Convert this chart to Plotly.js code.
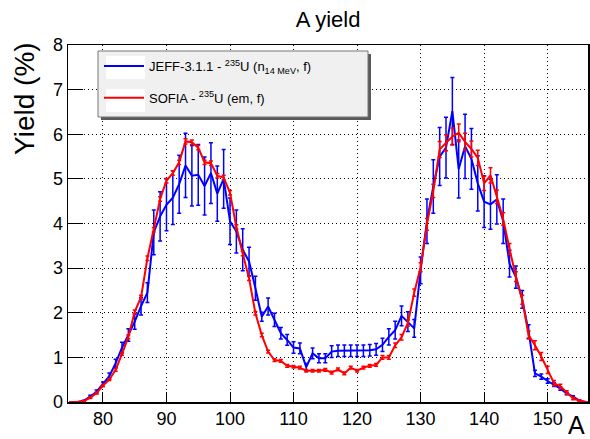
<!DOCTYPE html>
<html>
<head>
<meta charset="utf-8">
<script src="https://cdn.plot.ly/plotly-3.0.1.min.js"></script>
<style>html,body{margin:0;padding:0;background:#fff;}#chart{width:590px;height:439px;}</style>
</head>
<body>
<div id="chart"></div>
<script>
// Mass number A
const massA = [75,76,77,78,79,80,81,82,83,84,85,86,87,88,89,90,91,92,93,94,95,96,97,98,99,100,
  101,102,103,104,105,106,107,108,109,110,111,112,113,114,115,116,117,118,119,120,
  121,122,123,124,125,126,127,128,129,130,131,132,133,134,135,136,137,138,139,140,
  141,142,143,144,145,146,147,148,149,150,151,152,153,154,155,156];

// JEFF-3.1.1 - 235U (n 14 MeV, f) yield (%)
const jeffYield = [0.00,0.00,0.03,0.12,0.23,0.40,0.58,0.87,1.22,1.50,1.80,2.15,2.45,3.80,4.16,4.42,4.58,4.88,5.30,5.07,5.09,4.84,5.13,4.67,5.00,4.05,
  3.82,3.41,3.15,2.55,1.91,2.14,1.84,1.54,1.39,1.22,1.20,0.78,1.09,0.98,0.98,1.13,1.15,1.15,1.15,1.15,
  1.15,1.16,1.18,1.28,1.46,1.61,1.93,1.80,1.65,2.95,4.05,4.83,5.50,5.70,6.52,5.22,5.73,5.45,4.90,4.49,
  4.43,4.54,4.05,3.10,2.80,2.30,1.58,0.64,0.57,0.47,0.39,0.30,0.19,0.12,0.03,0.00];
const jeffErr = [0.00,0.00,0.01,0.03,0.04,0.05,0.07,0.09,0.12,0.14,0.17,0.20,0.22,0.50,0.55,0.58,0.60,0.65,0.72,0.68,0.68,0.65,0.68,0.62,0.66,0.52,
  0.48,0.47,0.32,0.27,0.10,0.19,0.15,0.13,0.12,0.13,0.12,0.08,0.12,0.10,0.10,0.13,0.13,0.13,0.13,0.13,
  0.13,0.13,0.13,0.15,0.18,0.20,0.22,0.22,0.20,0.30,0.50,0.60,0.65,0.68,0.75,0.65,0.72,0.68,0.62,0.58,
  0.56,0.55,0.50,0.30,0.25,0.20,0.15,0.07,0.06,0.05,0.04,0.035,0.025,0.02,0.01,0.00];

// SOFIA - 235U (em, f) yield (%)
const sofiaYield = [0.00,0.00,0.02,0.10,0.20,0.37,0.50,0.72,1.08,1.46,2.02,2.35,3.22,3.86,4.55,4.96,5.13,5.37,5.84,5.82,5.70,5.37,5.35,5.07,5.03,4.69,
  3.92,3.33,2.77,1.99,1.50,1.13,0.94,0.92,0.81,0.79,0.77,0.70,0.70,0.70,0.72,0.66,0.73,0.64,0.77,0.70,
  0.77,0.81,0.83,1.00,1.00,1.27,1.45,1.77,2.45,3.02,3.98,4.73,5.66,5.81,5.95,6.03,5.83,5.67,5.47,4.90,
  5.08,4.60,4.10,3.43,2.81,2.29,1.50,1.27,1.02,0.72,0.42,0.35,0.21,0.08,0.03,0.00];
const sofiaErr = [0.00,0.00,0.01,0.02,0.02,0.02,0.02,0.03,0.03,0.04,0.04,0.04,0.05,0.05,0.05,0.05,0.05,0.05,0.06,0.05,0.05,0.05,0.05,0.05,0.05,0.05,
  0.05,0.05,0.05,0.04,0.04,0.03,0.03,0.03,0.03,0.03,0.03,0.03,0.03,0.03,0.03,0.03,0.03,0.03,0.03,0.03,
  0.03,0.03,0.03,0.04,0.04,0.05,0.06,0.07,0.08,0.10,0.13,0.15,0.18,0.18,0.19,0.20,0.19,0.18,0.17,0.16,
  0.17,0.15,0.14,0.12,0.11,0.10,0.09,0.10,0.09,0.08,0.06,0.05,0.04,0.03,0.02,0.00];

const font = "Liberation Sans, Arial, Helvetica, sans-serif";

const traces = [
  {
    x: massA, y: jeffYield, type: 'scatter', mode: 'lines',
    name: 'JEFF-3.1.1 - <sup>235</sup>U (n<sub>14 MeV</sub>, f)',
    legendgroup: 'a',
    line: {color: '#0000ff', width: 2},
    error_y: {type: 'data', array: jeffErr, visible: true, color: '#0000ff', thickness: 1.5, width: 2}
  },
  {
    x: massA, y: sofiaYield, type: 'scatter', mode: 'lines',
    name: 'SOFIA - <sup>235</sup>U (em, f)',
    legendgroup: 'b',
    line: {color: '#ff0000', width: 2},
    error_y: {type: 'data', array: sofiaErr, visible: true, color: '#ff0000', thickness: 1.5, width: 2}
  }
];

// legend frame geometry in pixels (converted to paper coords)
const PL = 68, PW = 520, PT = 45, PH = 357;
const px = v => (v - PL) / PW;
const py = v => (PT + PH - v) / PH;

const layout = {
  width: 590, height: 439,
  margin: {l: 68, r: 2, t: 45, b: 37},
  paper_bgcolor: '#ffffff', plot_bgcolor: '#ffffff',
  font: {family: font, color: '#000000', size: 18},
  title: {text: 'A yield', font: {family: font, size: 22, color: '#000'}, x: 0.556, xref: 'container', xanchor: 'center', y: 0.955, yanchor: 'middle'},
  showlegend: true,
  legend: {
    x: px(99), y: py(51), xanchor: 'left', yanchor: 'top',
    bgcolor: 'rgba(0,0,0,0)', borderwidth: 0,
    font: {family: font, size: 13, color: '#000'},
    traceorder: 'grouped', tracegroupgap: 12, itemwidth: 40
  },
  xaxis: {
    range: [74.5, 156.35], tick0: 0, dtick: 10,
    showgrid: true, gridcolor: '#000000', gridwidth: 1, griddash: '1px,3px',
    zeroline: false, showline: true, linecolor: '#000', linewidth: 1.5, mirror: true,
    ticks: 'inside', ticklen: 10, tickwidth: 1, tickcolor: '#000',
    tickfont: {family: font, size: 18, color: '#000'}
  },
  yaxis: {
    range: [0, 8], tick0: 0, dtick: 1,
    showgrid: true, gridcolor: '#000000', gridwidth: 1, griddash: '1px,3px',
    zeroline: false, showline: true, linecolor: '#000', linewidth: 1.5, mirror: true,
    ticks: 'inside', ticklen: 15, tickwidth: 1, tickcolor: '#000',
    tickfont: {family: font, size: 18, color: '#000'}
  },
  shapes: [
    {type: 'rect', xref: 'paper', yref: 'paper', x0: px(101), x1: px(371), y0: py(54), y1: py(120),
     fillcolor: '#5a5a5a', line: {width: 0}, layer: 'above'},
    {type: 'rect', xref: 'paper', yref: 'paper', x0: px(98), x1: px(368), y0: py(51), y1: py(117),
     fillcolor: '#f0f0f0', line: {color: '#777777', width: 1}, layer: 'above'},
    {type: 'rect', xref: 'paper', yref: 'paper', x0: px(106), x1: px(145), y0: py(56), y1: py(79),
     fillcolor: '#ffffff', line: {width: 0}, layer: 'above'},
    {type: 'rect', xref: 'paper', yref: 'paper', x0: px(106), x1: px(145), y0: py(89), y1: py(112),
     fillcolor: '#ffffff', line: {width: 0}, layer: 'above'}
  ],
  annotations: [
    {text: 'Yield (%)', xref: 'paper', yref: 'paper', x: -0.085, y: 1.015, xanchor: 'center', yanchor: 'top',
     textangle: -90, showarrow: false, font: {family: font, size: 28, color: '#000'}},
    {text: 'A', xref: 'paper', yref: 'paper', x: 0.998, y: -0.065, xanchor: 'right', yanchor: 'middle',
     showarrow: false, font: {family: font, size: 25, color: '#000'}}
  ]
};

Plotly.newPlot('chart', traces, layout, {displayModeBar: false, staticPlot: true});
</script>
</body>
</html>
